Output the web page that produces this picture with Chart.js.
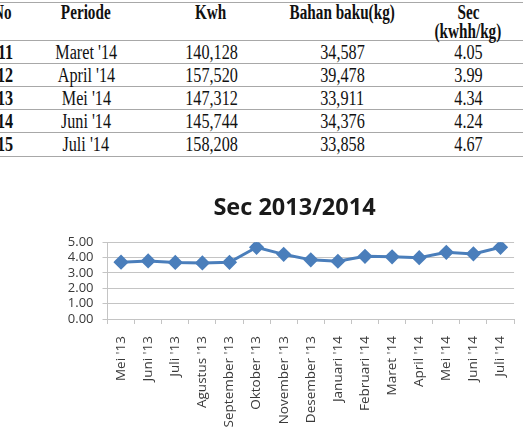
<!DOCTYPE html>
<html>
<head>
<meta charset="utf-8">
<script src="https://cdn.jsdelivr.net/npm/chart.js@4"></script>
<style>
  html, body { margin: 0; padding: 0; background: #fff; }
  body { width: 529px; height: 441px; position: relative; overflow: hidden; }
  #table { position: absolute; left: 0; top: 0; width: 529px; height: 170px; }
  .hl { position: absolute; left: 0; width: 523px; height: 1px; background: #a8a8a8; }
  .cell { position: absolute; white-space: nowrap; font-family: "Liberation Serif", serif; font-size: 20px; line-height: 22px; height: 22px; color: #111; transform-origin: center center; }
  .b { font-weight: bold; }
  #wrap { position: absolute; left: 0; top: 180px; width: 529px; height: 261px; }
</style>
</head>
<body>
<div id="table"></div>
<div id="wrap"><canvas id="c" width="529" height="261"></canvas></div>
<script>
// ---- table data ----
const tableHeaders = ["No", "Periode", "Kwh", "Bahan baku(kg)", "Sec"];
const secHeaderSub = "(kwhh/kg)";
const tableNo = ["11", "12", "13", "14", "15"];
const tablePeriode = ["Maret '14", "April '14", "Mei '14", "Juni '14", "Juli '14"];
const tableKwh = ["140,128", "157,520", "147,312", "145,744", "158,208"];
const tableBahan = ["34,587", "39,478", "33,911", "34,376", "33,858"];
const tableSec = ["4.05", "3.99", "4.34", "4.24", "4.67"];

// ---- chart data ----
const months = ["Mei '13", "Juni '13", "Juli '13", "Agustus '13", "September '13", "Oktober '13",
  "November '13", "Desember '13", "Januari '14", "Februari '14", "Maret '14", "April '14",
  "Mei '14", "Juni '14", "Juli '14"];
const secValues = [3.70, 3.78, 3.68, 3.65, 3.69, 4.67, 4.21, 3.85, 3.76, 4.08, 4.05, 3.99, 4.34, 4.24, 4.67];
const yTicks = [0, 1, 2, 3, 4, 5];

// ---- build table ----
const tbl = document.getElementById('table');
const colCenters = [2, 86, 211, 342, 468];
const lineYs = [2, 40, 63, 86, 109, 132, 156];
lineYs.forEach(y => {
  const d = document.createElement('div');
  d.className = 'hl'; d.style.top = y + 'px'; tbl.appendChild(d);
});
function addText(txt, cx, cy, bold, sx) {
  const d = document.createElement('div');
  d.className = 'cell' + (bold ? ' b' : '');
  d.textContent = txt;
  tbl.appendChild(d);
  const w = d.getBoundingClientRect().width;
  d.style.left = (cx - w / 2) + 'px';
  d.style.top = (cy - 11) + 'px';
  d.style.transform = 'scaleX(' + sx + ')';
}
tableHeaders.forEach((h, i) => addText(h, colCenters[i], 12, true, 0.76));
addText(secHeaderSub, colCenters[4], 31, true, 0.76);
const rowCols = [tableNo, tablePeriode, tableKwh, tableBahan, tableSec];
for (let r = 0; r < tableNo.length; r++) {
  const cy = 51.5 + r * 23.2;
  rowCols.forEach((col, i) => addText(col[r], i === 0 ? 5 : colCenters[i], cy, i === 0, 0.81));
}

// ---- chart ----
const gridColor = '#c4c4c4';
const titleShift = {
  id: 'titleShift',
  afterLayout(chart) {
    if (chart.titleBlock) { chart.titleBlock.left = 60; chart.titleBlock.right = 529; }
  }
};
new Chart(document.getElementById('c'), {
  type: 'line',
  plugins: [titleShift],
  data: {
    labels: months,
    datasets: [{
      data: secValues,
      borderColor: '#4a7ebb',
      backgroundColor: '#4a7ebb',
      borderWidth: 3,
      pointStyle: 'rectRot',
      pointRadius: 5.5,
      pointHoverRadius: 5.5,
      tension: 0,
      fill: false
    }]
  },
  options: {
    responsive: false,
    animation: false,
    layout: { padding: { left: 0, right: 6.5, top: 0, bottom: 0 } },
    plugins: {
      legend: { display: false },
      tooltip: { enabled: false },
      title: {
        display: true,
        text: 'Sec 2013/2014',
        color: '#1a1a1a',
        font: { family: 'Open Sans', size: 23.5, weight: 'bold' },
        padding: { top: 14, bottom: 20 }
      }
    },
    scales: {
      x: {
        offset: true,
        grid: { display: true, drawOnChartArea: false, drawTicks: true, tickLength: 5, offset: true, color: gridColor },
        border: { display: true, color: gridColor, width: 1 },
        ticks: {
          color: '#3a3a3a',
          font: { family: 'Open Sans', size: 13.5 },
          minRotation: 90, maxRotation: 90, padding: 12, autoSkip: false
        },
        afterFit: s => { s.height = 122; }
      },
      y: {
        min: 0, max: 5,
        afterBuildTicks: s => { s.ticks = yTicks.map(v => ({ value: v })); },
        grid: { color: gridColor, tickLength: 5, lineWidth: 1 },
        border: { display: true, color: gridColor, width: 1 },
        ticks: {
          color: '#3a3a3a',
          font: { family: 'Open Sans', size: 13 },
          padding: 9,
          autoSkip: false,
          stepSize: 1,
          callback: v => Number(v).toFixed(2)
        },
        afterFit: s => { s.width = 107.5; }
      }
    }
  }
});
</script>
</body>
</html>
